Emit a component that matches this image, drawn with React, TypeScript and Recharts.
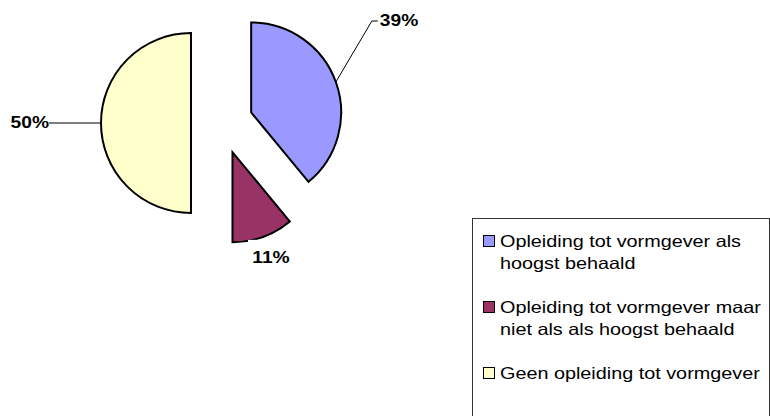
import { PieChart, Pie, Cell, Legend } from 'recharts';

const categories = [
  'Opleiding tot vormgever als hoogst behaald',
  'Opleiding tot vormgever maar niet als als hoogst behaald',
  'Geen opleiding tot vormgever',
];
const shares = [39, 11, 50];
const colors = ['#9999FF', '#993366', '#FFFFCC'];

const data = categories.map((name, i) => ({ name, value: shares[i] }));

const FONT = '"Liberation Sans", Arial, sans-serif';
const CENTER_X = 222;
const CENTER_Y = 123;
const RADIUS = 90;
const EXPLODE = 31;
const STRETCH = 1.2;

// mid angle of each slice, degrees clockwise from 12 o'clock
const total = shares.reduce((a, b) => a + b, 0);
let acc = 0;
const midAngles = shares.map((v) => {
  const m = ((acc + v / 2) / total) * 360;
  acc += v;
  return m;
});

// leader line / label placement relative to the slice's outer edge
const leaders = [
  { dx: 36, dy: -61, tail: 6, anchor: 'start', line: true },
  { dx: 8, dy: 21, tail: 0, anchor: 'middle', line: false },
  { dx: -49, dy: 0, tail: -3, anchor: 'end', line: true },
];

const RAD = Math.PI / 180;

const makeLabel = (target: number) => (props: any) => {
  if (props.index !== target) return <g />;
  const { cx, cy, midAngle, outerRadius, percent } = props;
  const ex = cx + Math.cos(-midAngle * RAD) * outerRadius;
  const ey = cy + Math.sin(-midAngle * RAD) * outerRadius;
  const cfg = leaders[target];
  const bx = ex + cfg.dx;
  const by = ey + cfg.dy;
  const tx = bx + cfg.tail + (cfg.anchor === 'start' ? 2 : 0);
  const text = `${Math.round(percent * 100)}%`;
  return (
    <g>
      {cfg.line && (
        <polyline
          points={`${ex},${ey} ${bx},${by} ${bx + cfg.tail},${by}`}
          fill="none"
          stroke="#000"
          strokeWidth={1}
        />
      )}
      {!cfg.line && (
        <rect x={tx - 23} y={by - 18} width={46} height={36} fill="#fff" />
      )}
      <text
        transform={`translate(${tx},${by}) scale(${STRETCH},1)`}
        textAnchor={cfg.anchor}
        dominantBaseline="central"
        fontFamily={FONT}
        fontWeight="bold"
        fontSize={16}
        fill="#000"
      >
        {text}
      </text>
    </g>
  );
};

const LegendBox = () => (
  <div
    style={{
      boxSizing: 'border-box',
      width: 298,
      height: 210,
      border: '1px solid #333',
      background: '#fff',
      padding: '11px 0 0 10px',
      fontFamily: FONT,
      color: '#000',
    }}
  >
    {categories.map((name, i) => (
      <div key={name} style={{ display: 'flex', alignItems: 'flex-start', marginBottom: 22 }}>
        <div
          style={{
            boxSizing: 'border-box',
            width: 12,
            height: 12,
            marginTop: 5,
            border: '1.5px solid #000',
            background: colors[i],
            flex: 'none',
          }}
        />
        <div
          style={{
            width: 225,
            marginLeft: 5,
            fontSize: 16.5,
            lineHeight: '22px',
            transform: `scaleX(${STRETCH})`,
            transformOrigin: 'left top',
          }}
        >
          {name}
        </div>
      </div>
    ))}
  </div>
);

export default function App() {
  return (
    <div
      style={{
        position: 'absolute',
        left: 0,
        top: 0,
        width: 770,
        height: 416,
        overflow: 'hidden',
        background: '#fff',
      }}
    >
      <PieChart width={770} height={416} margin={{ top: 0, right: 0, bottom: 0, left: 0 }}>
        {shares.map((_, target) => (
          <Pie
            key={target}
            data={data}
            dataKey="value"
            nameKey="name"
            cx={CENTER_X + EXPLODE * Math.sin(midAngles[target] * RAD)}
            cy={CENTER_Y - EXPLODE * Math.cos(midAngles[target] * RAD)}
            outerRadius={RADIUS}
            startAngle={90}
            endAngle={-270}
            label={makeLabel(target)}
            labelLine={false}
            legendType={target === 0 ? 'square' : 'none'}
            isAnimationActive={false}
          >
            {data.map((d, i) => (
              <Cell
                key={d.name}
                fill={i === target ? colors[i] : 'none'}
                stroke={i === target ? '#000' : 'none'}
                strokeWidth={2}
              />
            ))}
          </Pie>
        ))}
        <Legend
          content={() => <LegendBox />}
          wrapperStyle={{ position: 'absolute', left: 472, top: 218, width: 298, height: 210 }}
        />
      </PieChart>
    </div>
  );
}
